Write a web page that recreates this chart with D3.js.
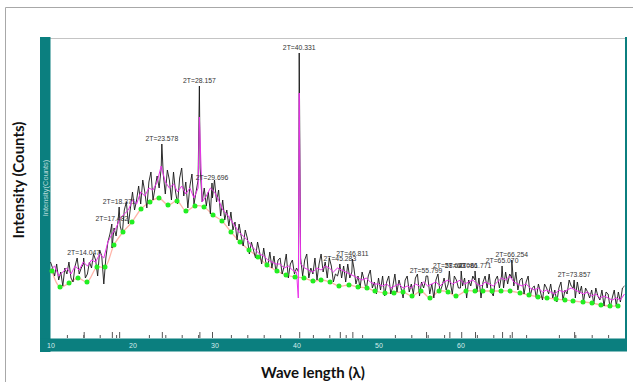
<!DOCTYPE html>
<html>
<head>
<meta charset="utf-8">
<script src="https://d3js.org/d3.v7.min.js"></script>
<style>
  body { margin: 0; background: #fff; }
  svg { display: block; }
</style>
</head>
<body>
<div id="vis"></div>
<script>
// ---- data (intensity in counts, 2T in degrees) ----
const rawStart = 10, rawStep = 0.25;
const rawCounts = [
  76, 70, 62, 74,   58, 66, 52, 70,   64, 76, 60, 56,   72, 80, 64, 70,
  74, 60, 64, 76,   70, 84, 78, 62,   88, 82, 54, 80,   96, 104, 90, 110,
  102, 118, 112, 104, 128, 136, 114, 130, 146, 128, 138, 152, 134, 158, 146, 130,
  156, 166, 138, 150, 162, 150, 170, 164, 144, 168, 158, 138, 166, 146, 134, 160,
  170, 142, 156, 130, 152, 164, 134, 146, 158, 170, 136, 150, 132, 146, 124, 140,
  158, 136, 148, 122, 138, 118, 128, 112, 126, 108, 116, 98,  114, 102, 92, 108,
  100, 84, 96, 88,  80, 96, 86, 74,   90, 76, 72, 86,   70, 82, 66, 78,
  80, 64, 72, 84,   60, 74, 78, 64,   70, 66, 80, 62,   78, 84, 60, 70,
  64, 80, 58, 74,   84, 66, 76, 60,   80, 72, 56, 64,   62, 70, 60, 72,
  56, 74, 60, 66,   70, 54, 62, 50,   66, 58, 48, 62,   68, 50, 56, 44,
  60, 48, 62, 42,   56, 62, 44, 52,   64, 46, 58, 50,   40, 58, 62, 46,
  54, 44, 60, 64,   42, 56, 50, 58,   62, 44, 54, 40,   58, 64, 46, 52,
  60, 48, 54, 56,   44, 62, 58, 50,   50, 52, 60, 40,   58, 52, 62, 58,
  46, 60, 40, 56,   62, 50, 64, 46,   42, 58, 62, 50,   62, 50, 66, 54,
  64, 60, 52, 66,   48, 58, 60, 44,   56, 62, 42, 50,   52, 40, 54, 46,
  38, 54, 50, 44,   54, 40, 48, 36,   50, 56, 38, 48,   44, 58, 52, 50,
  40, 56, 44, 52,   36, 50, 46, 40,   48, 34, 50, 42,   38, 48, 32, 46,
  44, 30, 40, 48,   32, 46, 36, 50,   52
];

// labelled peaks
const peakPos = [14.047, 17.482, 18.371, 23.578, 28.157, 29.696, 40.331, 45.283,
  46.811, 55.799, 58.643, 60.086, 61.771, 65.070, 66.254, 73.857];
const peakCounts = [80, 114, 131, 194, 252, 155, 285, 74,
  79, 62, 67, 67, 67, 72, 78, 58];

// smoothed (magenta) curve
const smoothStart = 10, smoothStep = 0.5;
const smoothCounts = [
  68, 72, 62, 66, 70, 64, 72, 68, 76, 72, 78, 76, 84, 80, 96, 104, 110, 120, 124, 128,
  138, 134, 146, 142, 150, 148, 156, 172, 156, 150, 154, 146, 152, 144, 150, 140, 150, 136, 142, 150,
  146, 138, 128, 124, 118, 112, 106, 102, 98, 92, 88, 84, 82, 78, 76, 74, 74, 70, 72, 68,
  66, 74, 70, 68, 66, 70, 68, 72, 70, 66, 70, 68, 66, 64, 62, 60, 58, 60, 56, 54,
  54, 52, 54, 50, 52, 54, 50, 52, 50, 54, 52, 56, 52, 54, 56, 52, 56, 58, 54, 56,
  58, 54, 56, 58, 54, 52, 56, 54, 52, 56, 60, 58, 62, 56, 54, 52, 54, 50, 48, 50,
  46, 48, 46, 44, 48, 46, 48, 50, 48, 46, 44, 46, 42, 44, 40, 42, 40, 38, 40, 38,
  44
];
const smoothSpikePos = [28.157, 40.22, 40.331];
const smoothSpikeCounts = [221, 40, 245];

// background points (green) and baseline
const bgPos = [10.18, 11.16, 12.26, 13.35, 14.45, 15.67, 16.65, 17.74, 18.84, 19.94,
  21.04, 22.13, 23.23, 24.33, 25.43, 26.52, 27.62, 28.72, 29.82, 30.91,
  32.01, 33.11, 34.21, 35.30, 36.40, 37.62, 38.72, 39.82, 40.91, 42.01,
  42.99, 44.09, 45.18, 46.40, 47.50, 48.60, 49.57, 50.79, 51.89, 52.99,
  54.09, 55.18, 56.28, 57.38, 58.48, 59.45, 60.67, 61.77, 62.74, 63.84,
  64.94, 66.04, 67.26, 68.35, 69.45, 70.55, 71.65, 72.74, 73.72, 74.94,
  76.04, 77.13, 78.23, 79.21];
const bgCounts = [67, 51, 55, 60, 56, 71, 71, 93, 106, 116,
  129, 136, 140, 133, 137, 127, 132, 131, 123, 117,
  106, 96, 88, 81, 73, 67, 63, 61, 60, 57,
  58, 56, 52, 53, 51, 50, 47, 45, 45, 46,
  42, 47, 40, 47, 46, 42, 47, 47, 47, 47,
  47, 47, 45, 43, 41, 40, 39, 38, 37, 36,
  35, 33, 32, 32];

const xLabels = [10, 20, 30, 40, 50, 60];
const minorTicks = [12, 14, 16, 18, 22, 24, 26, 28, 32, 34, 36, 38, 42, 44, 46, 48,
  52, 54, 56, 58, 62, 64, 66, 68, 72, 74, 76, 78];

// ---- layout ----
const W = 633, H = 382;
const plot = {left: 50.5, right: 624.5, top: 38, bottom: 338};
const teal = '#0b7f7f';

const svg = d3.select('#vis').append('svg')
    .attr('width', W)
    .attr('height', H);

const x = d3.scaleLinear().domain([10, 80]).range([plot.left, plot.right]);
const y = d3.scaleLinear().domain([0, 300]).range([plot.bottom, plot.top]);

// outer frame
svg.append('path')
    .attr('d', 'M5.5,382 V7.5 H633')
    .attr('fill', 'none')
    .attr('stroke', '#a8a8a8');

// plot frame
svg.append('line')
    .attr('x1', 50).attr('x2', 626).attr('y1', 38.5).attr('y2', 38.5)
    .attr('stroke', '#c4c4c4');
svg.append('rect').attr('x', 40).attr('y', 37).attr('width', 10.5).attr('height', 315).attr('fill', teal);
svg.append('rect').attr('x', 40).attr('y', 338.5).attr('width', 587).attr('height', 13).attr('fill', teal);
svg.append('rect').attr('x', 625).attr('y', 37).attr('width', 2).attr('height', 302).attr('fill', teal);

svg.append('text')
    .attr('transform', 'translate(47.5,188) rotate(-90)')
    .attr('text-anchor', 'middle')
    .style('font-family', 'Liberation Sans, Arial, sans-serif')
    .style('font-size', '7.5px')
    .style('fill', '#b8dada')
    .text('Intensity(Counts)');

// series
const rawPts = rawCounts.map((v, i) => [rawStart + i * rawStep, v])
    .concat(peakPos.map((p, i) => [p, peakCounts[i]]))
    .sort((a, b) => a[0] - b[0]);
const smoothPts = smoothCounts.map((v, i) => [smoothStart + i * smoothStep, v])
    .concat(smoothSpikePos.map((p, i) => [p, smoothSpikeCounts[i]]))
    .sort((a, b) => a[0] - b[0]);
const bgPts = bgPos.map((p, i) => [p, bgCounts[i]]);

const line = d3.line().x(d => x(d[0])).y(d => y(d[1]));
const bgLine = d3.line().x(d => x(d[0])).y(d => y(d[1])).curve(d3.curveCatmullRom.alpha(0.5));

svg.append('path')
    .datum(bgPts)
    .attr('fill', 'none')
    .attr('stroke', '#ffb4a8')
    .attr('stroke-width', 1.3)
    .attr('d', bgLine);

svg.append('path')
    .datum(rawPts)
    .attr('fill', 'none')
    .attr('stroke', '#161616')
    .attr('stroke-width', 0.9)
    .attr('d', line);

svg.append('path')
    .datum(smoothPts)
    .attr('fill', 'none')
    .attr('stroke', '#ea30ea')
    .attr('stroke-width', 1)
    .attr('d', line);

svg.selectAll('.bg')
    .data(bgPts)
    .join('circle')
    .attr('class', 'bg')
    .attr('cx', d => x(d[0]))
    .attr('cy', d => y(d[1]))
    .attr('r', 2.5)
    .attr('fill', '#22ee22');

// peak labels
svg.selectAll('.plabel')
    .data(peakPos)
    .join('text')
    .attr('class', 'plabel')
    .attr('x', d => x(d))
    .attr('y', (d, i) => y(peakCounts[i]) - 3.5)
    .attr('text-anchor', 'middle')
    .style('font-family', 'Liberation Sans, Arial, sans-serif')
    .style('font-size', '6.8px')
    .style('fill', '#333')
    .text(d => '2T=' + d.toFixed(3));

// x axis: minor ticks, peak ticks, labels
const axisY = plot.bottom;
function styleAxis(g) {
    g.select('.domain').remove();
    g.selectAll('.tick line').attr('stroke', '#555');
}
svg.append('g')
    .attr('transform', `translate(0,${axisY})`)
    .call(d3.axisBottom(x).tickValues(minorTicks).tickSize(-3).tickFormat(''))
    .call(styleAxis);
svg.append('g')
    .attr('transform', `translate(0,${axisY})`)
    .call(d3.axisBottom(x).tickValues(peakPos).tickSize(-6).tickFormat(''))
    .call(styleAxis);
svg.append('g')
    .attr('transform', `translate(0,${axisY})`)
    .call(d3.axisBottom(x).tickValues(xLabels).tickSize(0).tickPadding(5).tickFormat(d3.format('d')))
    .call(styleAxis)
    .call(g => g.selectAll('text')
        .style('font-family', 'Liberation Sans, Arial, sans-serif')
        .style('font-size', '7px')
        .attr('fill', '#d4ecec'));

// axis titles
svg.append('text')
    .attr('x', 313)
    .attr('y', 378)
    .attr('text-anchor', 'middle')
    .style('font-family', 'Lato, sans-serif')
    .style('font-weight', 'bold')
    .style('font-size', '15px')
    .style('fill', '#111')
    .text('Wave length (λ)');

svg.append('text')
    .attr('transform', 'translate(24,180) rotate(-90)')
    .attr('text-anchor', 'middle')
    .style('font-family', 'Lato, sans-serif')
    .style('font-weight', 'bold')
    .style('font-size', '15px')
    .style('fill', '#111')
    .text('Intensity (Counts)');
</script>
</body>
</html>
